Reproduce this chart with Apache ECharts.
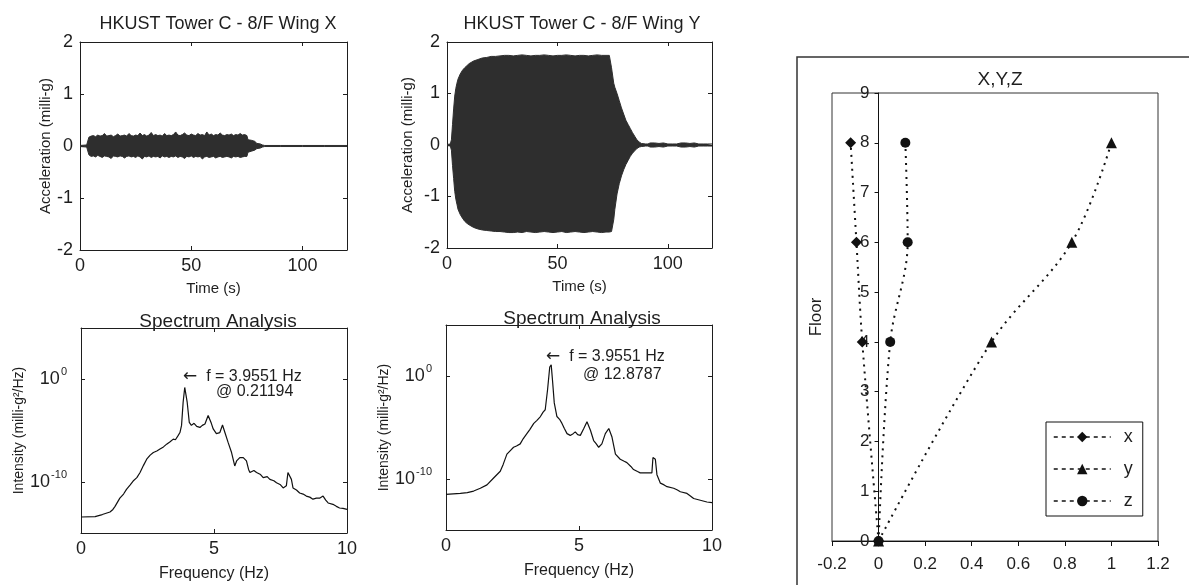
<!DOCTYPE html>
<html>
<head>
<meta charset="utf-8">
<script src="https://cdn.jsdelivr.net/npm/echarts@6/dist/echarts.min.js"></script>
<style>
html,body{margin:0;padding:0;background:#fff;}
#c{width:1189px;height:585px;}
</style>
</head>
<body>
<div id="c"></div>
<script>
// ---------------- DATA ----------------
// Wing X acceleration envelope (milli-g)
const tAccX = [0, 3, 3.6,
  4, 5, 6, 7, 8, 9, 10, 11, 12, 13,
  14, 15, 16, 17, 18, 19, 20, 21, 22, 23,
  24, 25, 26, 27, 28, 29, 30, 31, 32, 33,
  34, 35, 36, 37, 38, 39, 40, 41, 42, 43,
  44, 45, 46, 47, 48, 49, 50, 51, 52, 53,
  54, 55, 56, 57, 58, 59, 60, 61, 62, 63,
  64, 65, 66, 67, 68, 69, 70, 71, 72, 73,
  74, 75,
  75.5, 77, 78.5, 79.5, 81, 82, 83, 90, 100, 110, 120];
const accXUpper = [0.01, 0.02, 0.05,
  0.17, 0.19, 0.2, 0.18, 0.21, 0.19, 0.2, 0.24, 0.19, 0.2,
  0.21, 0.18, 0.2, 0.23, 0.19, 0.2, 0.21, 0.19, 0.24, 0.2,
  0.19, 0.21, 0.2, 0.25, 0.2, 0.22, 0.19, 0.21, 0.26, 0.2,
  0.22, 0.2, 0.21, 0.19, 0.24, 0.2, 0.21, 0.2, 0.22, 0.27,
  0.21, 0.2, 0.22, 0.25, 0.21, 0.2, 0.23, 0.21, 0.2, 0.24,
  0.21, 0.22, 0.2, 0.27, 0.21, 0.23, 0.2, 0.22, 0.21, 0.25,
  0.21, 0.2, 0.22, 0.21, 0.23, 0.2, 0.22, 0.21, 0.24, 0.21,
  0.22, 0.2,
  0.12, 0.11, 0.09, 0.05, 0.04, 0.02, 0.01, 0.01, 0.01, 0.01, 0.01];
const accXLower = [-0.01, -0.02, -0.05,
  -0.17, -0.2, -0.19, -0.21, -0.18, -0.2, -0.22, -0.19, -0.2, -0.21,
  -0.24, -0.19, -0.2, -0.21, -0.19, -0.2, -0.23, -0.2, -0.19, -0.21,
  -0.2, -0.22, -0.19, -0.21, -0.25, -0.2, -0.21, -0.19, -0.22, -0.2,
  -0.21, -0.2, -0.23, -0.19, -0.21, -0.2, -0.22, -0.2, -0.21, -0.19,
  -0.22, -0.2, -0.21, -0.24, -0.2, -0.21, -0.19, -0.22, -0.2, -0.21,
  -0.2, -0.25, -0.21, -0.2, -0.22, -0.21, -0.2, -0.23, -0.21, -0.2,
  -0.22, -0.21, -0.2, -0.21, -0.23, -0.2, -0.21, -0.2, -0.22, -0.21,
  -0.2, -0.2,
  -0.12, -0.1, -0.08, -0.05, -0.04, -0.02, -0.01, -0.01, -0.01, -0.01, -0.01];

// Wing Y acceleration envelope (milli-g)
const tAccY = [0, 1.5, 2, 2.5, 3, 3.5, 4, 4.5, 5, 6,
  7, 8, 9, 10, 12, 14, 16, 18, 20, 22,
  24, 26, 28, 30, 32, 34, 36, 38, 40, 42,
  44, 46, 48, 50, 52, 54, 56, 58, 60, 62,
  64, 66, 68, 70, 72, 73.5, 74.5, 75.5, 76, 77,
  78, 79, 80, 81, 82, 83, 84, 85, 86, 87,
  88, 90, 91, 92, 94, 96, 98, 100, 102, 104,
  106, 108, 110, 112, 114, 116, 118, 120];
const accYUpper = [0.01, 0.02, 0.1, 0.4, 0.7, 0.95, 1.1, 1.2, 1.28, 1.38,
  1.45, 1.5, 1.54, 1.58, 1.63, 1.66, 1.69, 1.7, 1.72, 1.72,
  1.73, 1.74, 1.74, 1.73, 1.74, 1.75, 1.74, 1.73, 1.74, 1.74,
  1.75, 1.74, 1.73, 1.74, 1.74, 1.75, 1.74, 1.73, 1.74, 1.74,
  1.73, 1.74, 1.75, 1.74, 1.74, 1.74, 1.5, 1.2, 1.12, 1.0,
  0.86, 0.72, 0.6, 0.48, 0.4, 0.32, 0.24, 0.17, 0.1, 0.06,
  0.03, 0.02, 0.02, 0.04, 0.04, 0.03, 0.04, 0.02, 0.02, 0.02,
  0.04, 0.04, 0.03, 0.04, 0.02, 0.02, 0.02, 0.02];
const accYLower = [-0.01, -0.02, -0.1, -0.4, -0.65, -0.9, -1.05, -1.15, -1.25, -1.35,
  -1.42, -1.48, -1.52, -1.55, -1.6, -1.63, -1.65, -1.66, -1.67, -1.68,
  -1.68, -1.69, -1.7, -1.7, -1.69, -1.7, -1.68, -1.69, -1.7, -1.69,
  -1.68, -1.69, -1.7, -1.69, -1.68, -1.7, -1.69, -1.68, -1.69, -1.7,
  -1.69, -1.68, -1.69, -1.7, -1.69, -1.69, -1.68, -1.45, -1.25, -0.95,
  -0.75, -0.6, -0.48, -0.38, -0.3, -0.22, -0.16, -0.11, -0.07, -0.04,
  -0.03, -0.02, -0.02, -0.04, -0.04, -0.03, -0.04, -0.02, -0.02, -0.02,
  -0.04, -0.04, -0.03, -0.04, -0.02, -0.02, -0.02, -0.02];

// Spectrum Wing X: frequency (Hz) and log10 intensity
const specFreqX = [0, 0.53, 0.8, 1.09, 1.2, 1.28, 1.46, 1.6, 1.71, 1.85,
  1.96, 2.1, 2.22, 2.35, 2.47, 2.6, 2.72, 2.85, 2.97, 3.1,
  3.22, 3.35, 3.47, 3.55, 3.65, 3.72, 3.78, 3.84, 3.9, 3.9551,
  3.99, 4.07, 4.15, 4.25, 4.35, 4.47, 4.56, 4.66, 4.78, 4.84,
  4.9, 4.97, 5.09, 5.22, 5.32, 5.41, 5.53, 5.66, 5.78, 5.85,
  5.97, 6.1, 6.22, 6.3, 6.35, 6.5, 6.6, 6.75, 6.85, 7.0,
  7.1, 7.25, 7.35, 7.5, 7.6, 7.72, 7.78, 7.85, 7.91, 7.97,
  8.1, 8.22, 8.35, 8.47, 8.6, 8.72, 8.85, 8.97, 9.1, 9.2,
  9.29, 9.47, 9.6, 9.72, 9.85, 10];
const specLogX = [-13.44, -13.4, -13.2, -12.95, -12.7, -12.4, -11.6, -11.2, -10.75, -10.3,
  -9.93, -9.6, -9.1, -8.4, -7.8, -7.4, -7.15, -7.0, -6.8, -6.6,
  -6.33, -6.1, -5.84, -5.9, -5.5, -5.2, -4.5, -2.23, -0.8, -0.674,
  -2.2, -4.2, -4.5, -4.3, -4.6, -4.7, -4.5, -4.36, -3.54, -3.7,
  -4.3, -4.85, -5.3, -5.2, -4.46, -5.2, -6.16, -7.15, -8.46, -7.97,
  -7.64, -7.64, -7.97, -8.8, -9.1, -8.9, -9.1, -9.3, -9.6, -9.5,
  -9.77, -9.9, -10.1, -10.3, -10.6, -10.4, -9.1, -8.95, -9.77, -10.6,
  -10.8, -11.1, -11.2, -11.4, -11.5, -11.7, -11.6, -11.6, -11.4, -11.8,
  -12.07, -12.2, -12.4, -12.56, -12.6, -12.7];

// Spectrum Wing Y
const specFreqY = [0, 0.54, 0.8, 1.04, 1.29, 1.54, 1.79, 2.04, 2.15, 2.29,
  2.4, 2.54, 2.65, 2.79, 2.9, 3.04, 3.15, 3.3, 3.42, 3.55,
  3.65, 3.73, 3.82, 3.9, 3.9551, 4.0, 4.07, 4.17, 4.27, 4.36,
  4.45, 4.55, 4.67, 4.78, 4.86, 4.95, 5.05, 5.18, 5.3, 5.43,
  5.55, 5.65, 5.74, 5.86, 5.99, 6.12, 6.24, 6.37, 6.55, 6.7,
  6.8, 6.95, 7.05, 7.2, 7.3, 7.55, 7.74, 7.78, 7.87, 7.93,
  8.06, 8.2, 8.31, 8.56, 8.7, 8.81, 9.06, 9.2, 9.31, 9.56,
  9.81, 10];
const specLogY = [-11.53, -11.43, -11.35, -11.2, -10.93, -10.6, -9.93, -9.27, -8.6, -7.6,
  -7.3, -6.93, -6.8, -6.6, -6.1, -5.6, -5.2, -4.6, -4.3, -3.93,
  -3.5, -3.27, -1.27, 0.9, 1.11, -0.27, -2.6, -3.93, -4.2, -4.6,
  -5.1, -5.6, -5.77, -5.6, -5.43, -5.7, -5.77, -5.1, -4.43, -5.27,
  -6.27, -6.6, -6.93, -6.6, -5.6, -5.1, -5.93, -7.6, -8.1, -8.3,
  -8.43, -8.8, -9.1, -9.3, -9.43, -9.43, -9.43, -7.93, -8.1, -9.6,
  -10.43, -10.6, -10.77, -10.93, -11.1, -11.27, -11.43, -11.7, -11.93, -12.1,
  -12.27, -12.33];

// Floor response (X,Y,Z)
const floors = [0, 4, 6, 8];
const respX = [0, -0.07, -0.095, -0.12];
const respY = [0, 0.485, 0.83, 1.0];
const respZ = [0, 0.05, 0.125, 0.115];

const titles = ['HKUST Tower C - 8/F Wing X', 'HKUST Tower C - 8/F Wing Y', 'Spectrum Analysis', 'Spectrum Analysis', 'X,Y,Z'];
const peakText = [['f = 3.9551 Hz', '@ 0.21194'], ['f = 3.9551 Hz', '@ 12.8787']];

// ---------------- CHART ----------------
const FONT = '"Liberation Sans", Arial, Helvetica, sans-serif';
const INK = '#1e1e1e';
const chart = echarts.init(document.getElementById('c'), null, {renderer: 'canvas'});

const zip = (a, b) => a.map((v, i) => [v, b[i]]);

const grids = [
  {left: 80, top: 42, width: 267, height: 208},
  {left: 447, top: 42, width: 265, height: 206},
  {left: 81, top: 328, width: 266, height: 205},
  {left: 446, top: 325, width: 266, height: 205},
  {left: 832, top: 93, width: 326, height: 448}
];
// pixel offset of the x = 0 line inside the right-hand plot
const yAxisShift = -grids[4].width * 0.2 / 1.4;

const lineSty = {color: INK, width: 1};
const tickLbl = {color: INK, fontSize: 18, fontFamily: FONT};

function mTimeX(g) {
  return {gridIndex: g, type: 'value', min: 0, max: 120, interval: 50,
    name: 'Time (s)', nameLocation: 'middle', nameGap: 31,
    nameTextStyle: {color: INK, fontSize: 15, fontFamily: FONT},
    axisLine: {onZero: false, lineStyle: lineSty},
    axisTick: {inside: true, length: 4, lineStyle: lineSty},
    axisLabel: Object.assign({margin: 7, showMaxLabel: false}, tickLbl),
    splitLine: {show: false}};
}
function mFreqX(g) {
  return {gridIndex: g, type: 'value', min: 0, max: 10, interval: 5,
    name: 'Frequency (Hz)', nameLocation: 'middle', nameGap: 33,
    nameTextStyle: {color: INK, fontSize: 16, fontFamily: FONT},
    axisLine: {onZero: false, lineStyle: lineSty},
    axisTick: {inside: true, length: 4, lineStyle: lineSty},
    axisLabel: Object.assign({margin: 7}, tickLbl),
    splitLine: {show: false}};
}
function mirrorX(g, min, max, interval) {
  return {gridIndex: g, type: 'value', position: 'top', min: min, max: max, interval: interval,
    axisLine: {onZero: false, lineStyle: lineSty},
    axisTick: {inside: true, length: 4, lineStyle: lineSty},
    axisLabel: {show: false}, splitLine: {show: false}};
}
function mAccY(g, gap) {
  return {gridIndex: g, type: 'value', min: -2, max: 2, interval: 1,
    name: 'Acceleration (milli-g)', nameLocation: 'middle', nameGap: gap,
    nameTextStyle: {color: INK, fontSize: 15, fontFamily: FONT},
    axisLine: {onZero: false, lineStyle: lineSty},
    axisTick: {inside: true, length: 4, lineStyle: lineSty},
    axisLabel: Object.assign({margin: 7}, tickLbl),
    splitLine: {show: false}};
}
const expLabel = {
  color: INK, fontFamily: FONT, margin: 14,
  formatter: v => '{b|10}{s|' + Math.round(v) + '}',
  rich: {b: {fontSize: 18, fontFamily: FONT, color: INK},
         s: {fontSize: 11, fontFamily: FONT, color: INK, padding: [0, 0, 14, 1]}},
  customValues: [-10, 0]
};
function mSpecY(g, gap) {
  return {gridIndex: g, type: 'value', min: -15, max: 5,
    name: 'Intensity (milli-g²/Hz)', nameLocation: 'middle', nameGap: gap,
    nameTextStyle: {color: INK, fontSize: 14, fontFamily: FONT},
    axisLine: {onZero: false, lineStyle: lineSty},
    axisTick: {inside: true, length: 4, lineStyle: lineSty, customValues: [-10, 0]},
    axisLabel: expLabel,
    splitLine: {show: false}};
}
function mirrorY(g, min, max, interval, custom) {
  const a = {gridIndex: g, type: 'value', position: 'right', min: min, max: max,
    axisLine: {onZero: false, lineStyle: lineSty},
    axisTick: {inside: true, length: 4, lineStyle: lineSty},
    axisLabel: {show: false}, splitLine: {show: false}};
  if (interval) a.interval = interval;
  if (custom) { a.axisTick.customValues = custom; a.axisLabel.customValues = custom; }
  return a;
}

const xAxes = [
  mTimeX(0), mTimeX(1), mFreqX(2), mFreqX(3),
  {gridIndex: 4, type: 'value', min: -0.2, max: 1.2, interval: 0.2,
   axisLine: {onZero: false, lineStyle: {color: '#111', width: 1}},
   axisTick: {inside: false, length: 5, lineStyle: {color: '#111'}},
   axisLabel: {color: INK, fontSize: 17, fontFamily: FONT, margin: 15,
     formatter: v => String(Math.round(v * 10) / 10)},
   splitLine: {show: false}},
  mirrorX(0, 0, 120, 50), mirrorX(1, 0, 120, 50), mirrorX(2, 0, 10, 5), mirrorX(3, 0, 10, 5)
];
const yAxes = [
  mAccY(0, 27), mAccY(1, 32), mSpecY(2, 55), mSpecY(3, 51),
  {gridIndex: 4, type: 'value', min: 0, max: 9, interval: 1, position: 'left', offset: yAxisShift,
   name: 'Floor', nameLocation: 'middle', nameGap: 54,
   nameTextStyle: {color: INK, fontSize: 17, fontFamily: FONT},
   axisLine: {onZero: false, lineStyle: {color: '#111', width: 1}},
   axisTick: {inside: false, length: 4, lineStyle: {color: '#111'}},
   axisLabel: {color: INK, fontSize: 17, fontFamily: FONT, margin: 9},
   splitLine: {show: false}},
  mirrorY(0, -2, 2, 1), mirrorY(1, -2, 2, 1), mirrorY(2, -15, 5, null, [-10, 0]), mirrorY(3, -15, 5, null, [-10, 0])
];

function band(xi, t, arr) {
  return {type: 'line', xAxisIndex: xi, yAxisIndex: xi, data: zip(t, arr),
    symbol: 'none', silent: true,
    lineStyle: {color: '#2e2e2e', width: 1},
    areaStyle: {color: '#2e2e2e', opacity: 1}};
}
function spec(xi, f, v) {
  return {type: 'line', xAxisIndex: xi, yAxisIndex: xi, data: zip(f, v),
    symbol: 'none', silent: true, lineStyle: {color: '#111', width: 1.2}};
}
function floorLine(name, vals, sym, size) {
  return {type: 'line', name: name, xAxisIndex: 4, yAxisIndex: 4,
    data: zip(vals, floors), smooth: 0.35, symbol: sym, symbolSize: size,
    itemStyle: {color: '#111'},
    lineStyle: {color: '#111', width: 2, type: [2, 5]}};
}

const series = [
  band(0, tAccX, accXUpper), band(0, tAccX, accXLower),
  band(1, tAccY, accYUpper), band(1, tAccY, accYLower),
  spec(2, specFreqX, specLogX), spec(3, specFreqY, specLogY),
  floorLine('x', respX, 'diamond', 11),
  floorLine('y', respY, 'triangle', 11),
  floorLine('z', respZ, 'circle', 10)
];

const ttl = (text, x, y, size) => ({text: text, left: x, top: y, textAlign: 'center',
  textStyle: {color: INK, fontSize: size, fontWeight: 'normal', fontFamily: FONT}});

const txt = (s, x, y, arrow) => ({type: 'text', left: x, top: y,
  style: {text: arrow ? '{a|\u2190}  ' + s : s, fill: INK, font: '16px ' + FONT,
    rich: {a: {fontSize: 17, fontFamily: '"DejaVu Sans", sans-serif', fill: INK, color: INK}}}});

chart.setOption({
  animation: false,
  backgroundColor: '#fff',
  title: [
    ttl(titles[0], 213, 10, 18), ttl(titles[1], 577, 10, 18),
    ttl(titles[2], 213, 307, 19), ttl(titles[3], 577, 304, 19),
    ttl(titles[4], 995, 65, 19)
  ],
  grid: grids.map(g => Object.assign({show: g === grids[4], borderColor: '#333', borderWidth: 1, containLabel: false}, g)),
  xAxis: xAxes,
  yAxis: yAxes,
  legend: {
    data: ['x', 'y', 'z'], orient: 'vertical', left: 1046, top: 422,
    borderColor: '#111', borderWidth: 1, padding: [6, 10, 6, 7],
    itemWidth: 57, itemHeight: 13, itemGap: 14,
    lineStyle: {type: [4, 4], width: 1.5},
    textStyle: {color: INK, fontSize: 18, fontFamily: FONT, padding: [0, 0, 0, 8]}
  },
  graphic: [
    {type: 'rect', shape: {x: 797, y: 57, width: 400, height: 540},
     style: {fill: 'none', stroke: '#333', lineWidth: 1.5}, silent: true},
    txt(peakText[0][0], 183, 368, true), txt(peakText[0][1], 216, 384, false),
    txt(peakText[1][0], 546, 348, true), txt(peakText[1][1], 583, 367, false)
  ],
  series: series
});
</script>
</body>
</html>
